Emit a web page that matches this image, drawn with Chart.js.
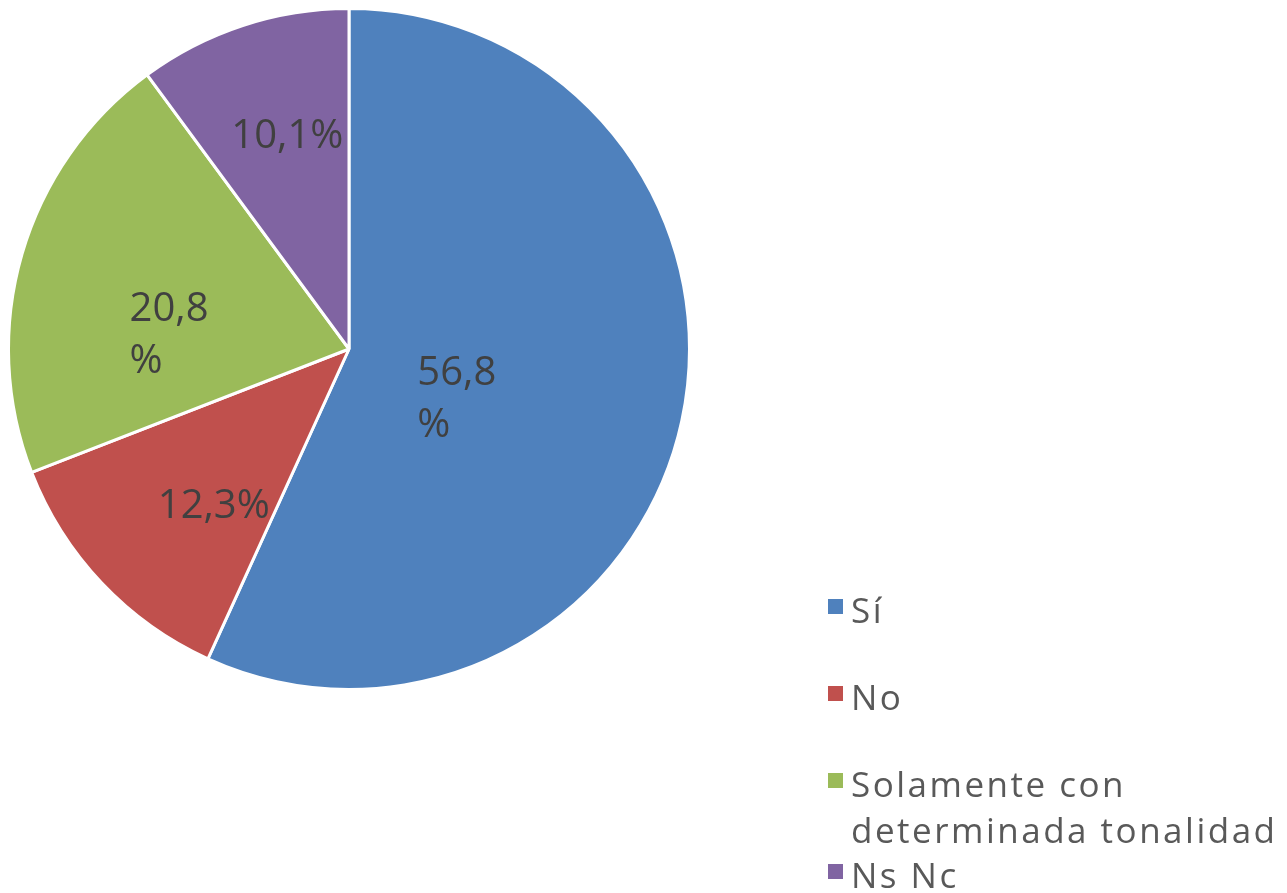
<!DOCTYPE html>
<html>
<head>
<meta charset="utf-8">
<script src="https://cdn.jsdelivr.net/npm/chart.js@4.4.0/dist/chart.umd.min.js"></script>
<style>
  html, body { margin: 0; padding: 0; background: #fff; }
  #wrap { width: 1287px; height: 893px; }
</style>
</head>
<body>
<div id="wrap"><canvas id="grafico"></canvas></div>
<script>
// datos del gráfico
const categorias = ['Sí', 'No', 'Solamente con determinada tonalidad', 'Ns Nc'];
const porcentajes = [56.8, 12.3, 20.8, 10.1];
const colores = ['#4F81BD', '#C0504D', '#9BBB59', '#8064A2'];

const fuente = '"Open Sans", "DejaVu Sans", sans-serif';

// etiquetas dentro de cada sector (posición relativa al sector)
const etiquetasPlugin = {
  id: 'etiquetas',
  afterDatasetsDraw(chart, args, opts) {
    const ctx = chart.ctx;
    const arcs = chart.getDatasetMeta(0).data;
    ctx.save();
    ctx.font = '40px ' + fuente;
    ctx.fillStyle = '#404040';
    ctx.textBaseline = 'middle';
    ctx.textAlign = 'left';
    arcs.forEach((arc, i) => {
      const p = arc.getProps(['x', 'y', 'startAngle', 'endAngle', 'outerRadius']);
      const mid = (p.startAngle + p.endAngle) / 2 + opts.giro[i] * Math.PI / 180;
      const r = p.outerRadius * opts.radio[i];
      const cx = p.x + Math.cos(mid) * r;
      const cy = p.y + Math.sin(mid) * r;
      const txt = porcentajes[i].toFixed(1).replace('.', ',');
      const lineas = opts.partir[i] ? [txt, '%'] : [txt + '%'];
      const ancho = Math.max(...lineas.map(l => ctx.measureText(l).width));
      const alto = 52;
      const y0 = cy - (lineas.length - 1) * alto / 2;
      lineas.forEach((l, k) => ctx.fillText(l, cx - ancho / 2, y0 + k * alto));
    });
    ctx.restore();
  }
};

// leyenda a la derecha, abajo
const leyendaPlugin = {
  id: 'leyendaDerecha',
  afterDraw(chart, args, opts) {
    const ctx = chart.ctx;
    ctx.save();
    ctx.font = '35px ' + fuente;
    ctx.letterSpacing = '2.5px';
    ctx.textBaseline = 'alphabetic';
    const maxW = chart.width - opts.x - 23;
    let base = opts.y;
    categorias.forEach((cat, i) => {
      // partir en líneas
      const palabras = cat.split(' ');
      const lineas = [];
      let actual = '';
      palabras.forEach(w => {
        const prueba = actual ? actual + ' ' + w : w;
        if (ctx.measureText(prueba).width > maxW && actual) {
          lineas.push(actual);
          actual = w;
        } else actual = prueba;
      });
      lineas.push(actual);

      ctx.fillStyle = colores[i];
      ctx.fillRect(opts.x, base - 24, 15, 15);
      ctx.fillStyle = '#595959';
      lineas.forEach((l, k) => ctx.fillText(l, opts.x + 23, base + k * 46));
      base += 87 + (lineas.length - 1) * 4;
    });
    ctx.restore();
  }
};

new Chart(document.getElementById('grafico'), {
  type: 'pie',
  data: {
    labels: categorias,
    datasets: [{
      data: porcentajes,
      backgroundColor: colores,
      borderColor: '#ffffff',
      borderWidth: 3
    }]
  },
  options: {
    responsive: true,
    maintainAspectRatio: false,
    animation: false,
    layout: { padding: { left: 7, top: 7, right: 596, bottom: 202 } },
    plugins: {
      legend: { display: false },
      tooltip: { enabled: false },
      etiquetas: {
        radio: [0.35, 0.61, 0.53, 0.65],
        giro: [13, -6, -12, 2],
        partir: [true, false, true, false]
      },
      leyendaDerecha: { x: 828, y: 623 }
    }
  },
  plugins: [etiquetasPlugin, leyendaPlugin]
});
</script>
</body>
</html>
